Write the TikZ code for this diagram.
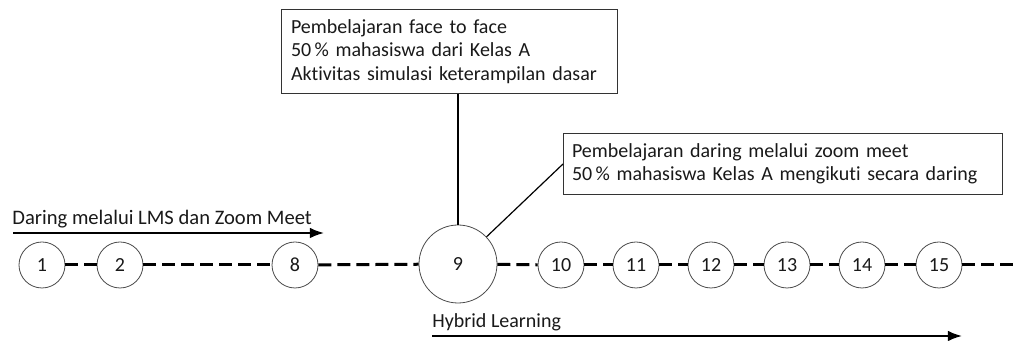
\documentclass[tikz,border=0pt]{standalone}
\usepackage{fontspec}
\setmainfont{Carlito}[Ligatures=NoCommon]
\usetikzlibrary{
    arrows.meta,  % For arrow tips
    positioning   % For relative placement
}

\begin{document}
\begin{tikzpicture}[
    x=0.5pt, y=-0.5pt, % one unit = one pixel of the sketch
    >=Latex, % Default arrow tip
    every node/.style={font=\fontsize{10}{11.75}\selectfont, text=black!90},
    meeting/.style={circle, draw=black!70, line width=0.4pt, fill=white,
        minimum size=23pt, inner sep=0pt}, % Weekly meeting
    bigmeeting/.style={meeting, minimum size=39pt}, % Hybrid meeting
    timeline/.style={line width=1.5pt, dash pattern=on 6.5pt off 3pt},
    phase/.style={->, line width=0.9pt},
    infobox/.style={draw=black!80, line width=0.5pt, align=left,
        anchor=north west, inner ysep=0pt}, % Callout boxes
    callout/.style={line width=0.6pt}
]
    \useasboundingbox (0,0) rectangle (1013,341);

    % Meetings along the semester
    \node[meeting] (m1) at (42,265) {1};
    \node[meeting] (m2) at (120,265) {2};
    \node[meeting] (m8) at (295,265) {8};
    \node[bigmeeting] (m9) at (458,264) {9};
    \foreach \n/\x in {10/561, 11/636, 12/711, 13/787, 14/862, 15/939}
        \node[meeting] (m\n) at (\x,265) {\n};
    \coordinate (lineend) at (1013,265);

    % Dashed timeline
    \draw[timeline] (m1) -- (m2);
    \draw[timeline] (m2) -- (m8);
    \draw[timeline] (m8) -- (m9);
    \draw[timeline] (m9) -- (m10);
    \foreach \a/\b in {10/11, 11/12, 12/13, 13/14, 14/15}
        \draw[timeline] (m\a) -- (m\b);
    \draw[timeline] (m15) -- (lineend);

    % Online phase
    \node[anchor=base west, inner sep=0pt, font=\fontsize{10.3}{12}\selectfont] (online) at (12,225) {Daring melalui LMS dan Zoom Meet};
    \coordinate (onlinestart) at (13,233);
    \coordinate (onlineend) at (324,233);
    \draw[phase] (onlinestart) -- (onlineend);

    % Hybrid phase
    \node[anchor=base west, inner sep=0pt] (hybrid) at (432,328) {Hybrid Learning};
    \coordinate (hybridstart) at (432,336);
    \coordinate (hybridend) at (962,336);
    \draw[phase] (hybridstart) -- (hybridend);

    % Callout boxes
    \node[infobox, inner xsep=4.75pt, text width=158.5pt, minimum height=42pt] (faceface) at (281,9)
        {Pembelajaran face to face\\50\,\% mahasiswa dari Kelas A\\Aktivitas simulasi keterampilan dasar};
    \node[infobox, inner xsep=4.25pt, text width=211pt, minimum height=30.5pt] (zoommeet) at (563,133)
        {Pembelajaran daring melalui zoom meet\\50\,\% mahasiswa Kelas A mengikuti secara daring};

    \draw[callout] (m9.north) -- (m9.north |- faceface.south);
    \draw[callout] (m9) -- (zoommeet.west);

\end{tikzpicture}
\end{document}
